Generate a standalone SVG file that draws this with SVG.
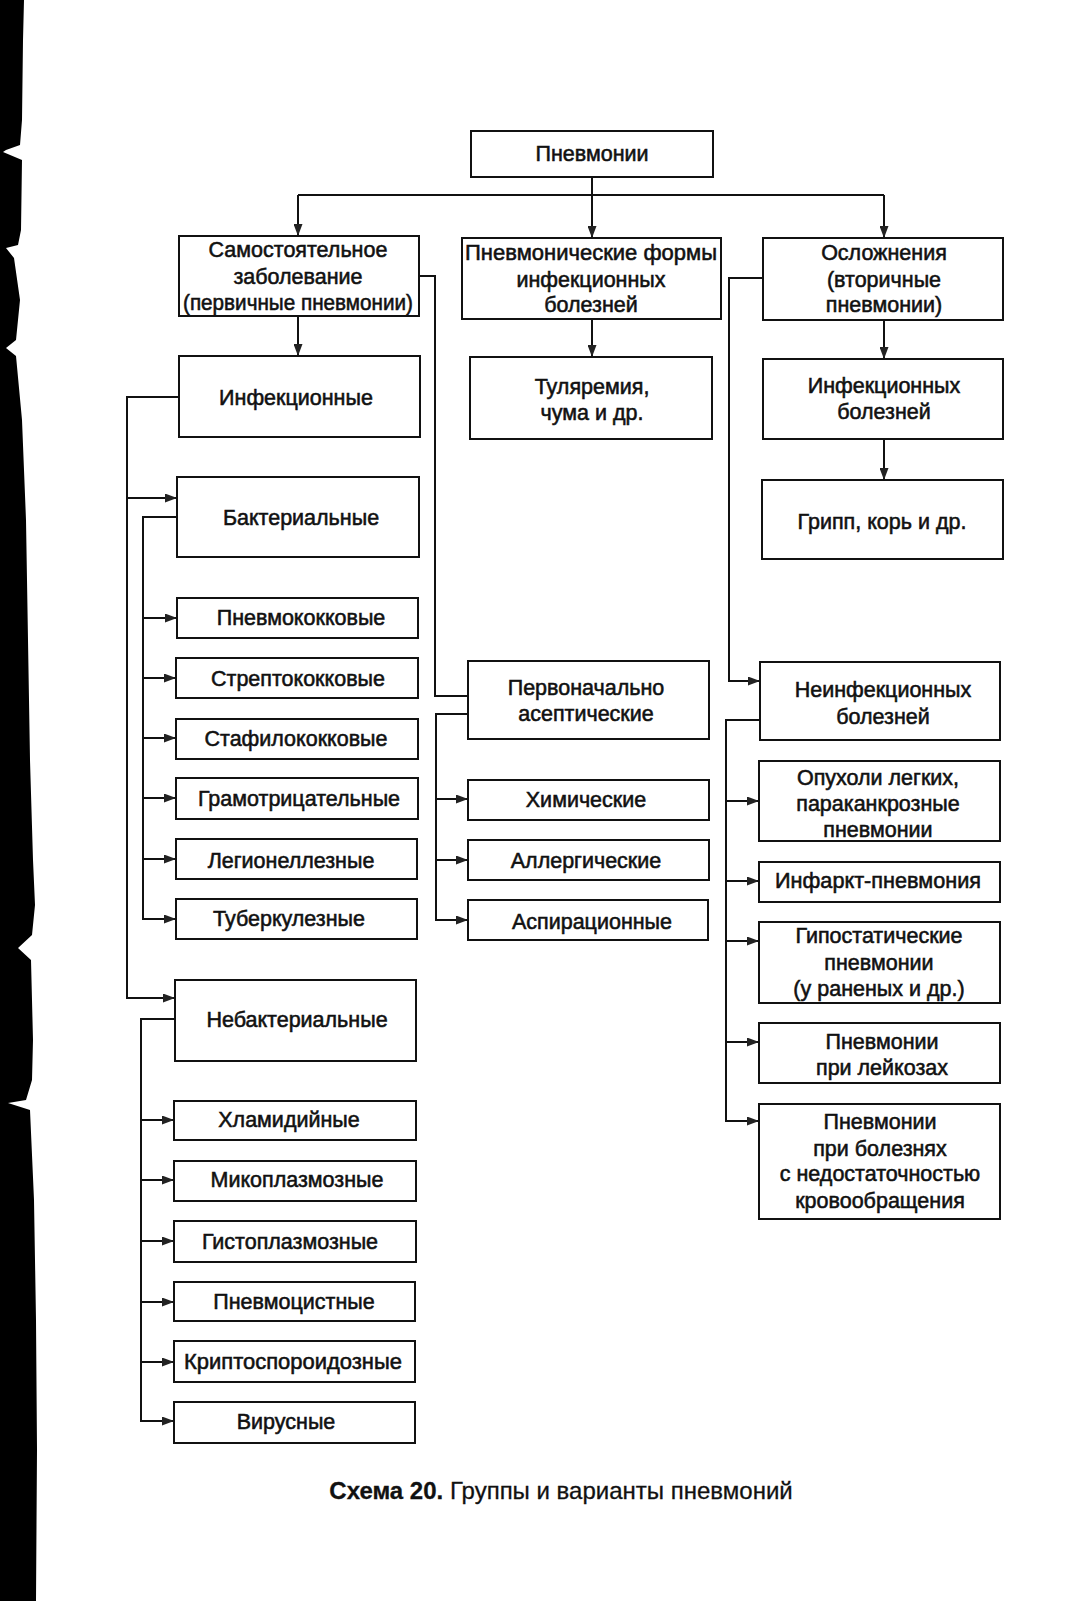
<svg xmlns="http://www.w3.org/2000/svg" width="1073" height="1601" viewBox="0 0 1073 1601">
<defs>
<style>
.b{fill:#fff;stroke:#111;stroke-width:2}
.t{font-family:"Liberation Sans",Arial,sans-serif;font-size:21.5px;fill:#111;stroke:#111;stroke-width:0.55;text-anchor:middle}
.c{fill:none;stroke:#111;stroke-width:2}
.cap{font-family:"Liberation Sans",Arial,sans-serif;font-size:24px;fill:#111;stroke:#111;stroke-width:0.3}
</style>
<marker id="ah" viewBox="0 0 12 9" refX="12" refY="4.5" markerWidth="12" markerHeight="9" markerUnits="userSpaceOnUse" orient="auto">
<path d="M0,0 L12,4.5 L0,9 z" fill="#222"/>
</marker>
</defs>
<rect width="1073" height="1601" fill="#fff"/>
<g id="scan-edge">
<path d="M0,0 L24,0 L23,40 L22,120 L20,145 L6,150 L3,152 L22,160 L21,230 L18,245 L6,248 L14,258 L20,300 L16,340 L6,348 L16,356 L22,420 L26,520 L28,640 L30,760 L33,860 L35,905 L32,935 L18,948 L31,960 L33,1040 L32,1080 L26,1100 L8,1103 L30,1110 L34,1200 L36,1320 L37,1450 L36,1601 L0,1601 z" fill="#000"/>
</g>
<g id="connectors">
<path class="c" d="M592,177 V195 M298,195 H884"/>
<path class="c" d="M298,195 V236" marker-end="url(#ah)"/>
<path class="c" d="M592,195 V238" marker-end="url(#ah)"/>
<path class="c" d="M884,195 V238" marker-end="url(#ah)"/>
<path class="c" d="M298,316 V356" marker-end="url(#ah)"/>
<path class="c" d="M592,319 V357" marker-end="url(#ah)"/>
<path class="c" d="M884,320 V359" marker-end="url(#ah)"/>
<path class="c" d="M884,439 V480" marker-end="url(#ah)"/>
<path class="c" d="M419,276 H435 V696 H468"/>
<path class="c" d="M763,278 H729 V681 H760" marker-end="url(#ah)"/>
<path class="c" d="M179,397 H127 V998 H175" marker-end="url(#ah)"/>
<path class="c" d="M127,498 H177" marker-end="url(#ah)"/>
<path class="c" d="M177,517 H143 V919 H176" marker-end="url(#ah)"/>
<path class="c" d="M143,618 H177" marker-end="url(#ah)"/>
<path class="c" d="M143,678 H176" marker-end="url(#ah)"/>
<path class="c" d="M143,738 H176" marker-end="url(#ah)"/>
<path class="c" d="M143,798 H176" marker-end="url(#ah)"/>
<path class="c" d="M143,859 H176" marker-end="url(#ah)"/>
<path class="c" d="M175,1019 H141 V1421 H174" marker-end="url(#ah)"/>
<path class="c" d="M141,1120 H174" marker-end="url(#ah)"/>
<path class="c" d="M141,1180 H174" marker-end="url(#ah)"/>
<path class="c" d="M141,1241 H174" marker-end="url(#ah)"/>
<path class="c" d="M141,1302 H174" marker-end="url(#ah)"/>
<path class="c" d="M141,1362 H174" marker-end="url(#ah)"/>
<path class="c" d="M468,714 H436 V920 H468" marker-end="url(#ah)"/>
<path class="c" d="M436,799 H468" marker-end="url(#ah)"/>
<path class="c" d="M436,860 H468" marker-end="url(#ah)"/>
<path class="c" d="M760,720 H726 V1121 H759" marker-end="url(#ah)"/>
<path class="c" d="M726,801 H759" marker-end="url(#ah)"/>
<path class="c" d="M726,881 H759" marker-end="url(#ah)"/>
<path class="c" d="M726,941 H759" marker-end="url(#ah)"/>
<path class="c" d="M726,1042 H759" marker-end="url(#ah)"/>
</g>
<g id="n-root"><rect class="b" x="471" y="131" width="242" height="46"/><text class="t" x="592" y="161">Пневмонии</text></g>
<g id="n-primary"><rect class="b" x="179" y="236" width="240" height="80"/><text class="t" x="298" y="257">Самостоятельное</text><text class="t" x="298" y="284">заболевание</text><text class="t" x="298" y="310" textLength="230" lengthAdjust="spacingAndGlyphs">(первичные пневмонии)</text></g>
<g id="n-forms"><rect class="b" x="462" y="238" width="259" height="81"/><text class="t" x="591" y="260" textLength="252" lengthAdjust="spacingAndGlyphs">Пневмонические формы</text><text class="t" x="591" y="287">инфекционных</text><text class="t" x="591" y="312">болезней</text></g>
<g id="n-compl"><rect class="b" x="763" y="238" width="240" height="82"/><text class="t" x="884" y="260">Осложнения</text><text class="t" x="884" y="287">(вторичные</text><text class="t" x="884" y="312">пневмонии)</text></g>
<g id="n-infect"><rect class="b" x="179" y="356" width="241" height="81"/><text class="t" x="296" y="405">Инфекционные</text></g>
<g id="n-tular"><rect class="b" x="470" y="357" width="242" height="82"/><text class="t" x="592" y="394">Туляремия,</text><text class="t" x="592" y="420">чума и др.</text></g>
<g id="n-infdis"><rect class="b" x="763" y="359" width="240" height="80"/><text class="t" x="884" y="393">Инфекционных</text><text class="t" x="884" y="419">болезней</text></g>
<g id="n-flu"><rect class="b" x="762" y="480" width="241" height="79"/><text class="t" x="882" y="529">Грипп, корь и др.</text></g>
<g id="n-bact"><rect class="b" x="177" y="477" width="242" height="80"/><text class="t" x="301" y="525">Бактериальные</text></g>
<g id="n-pneumococ"><rect class="b" x="177" y="598" width="241" height="40"/><text class="t" x="301" y="625">Пневмококковые</text></g>
<g id="n-strepto"><rect class="b" x="176" y="658" width="242" height="40"/><text class="t" x="298" y="686">Стрептококковые</text></g>
<g id="n-staph"><rect class="b" x="176" y="719" width="242" height="40"/><text class="t" x="296" y="746">Стафилококковые</text></g>
<g id="n-gramneg"><rect class="b" x="176" y="778" width="242" height="41"/><text class="t" x="299" y="806">Грамотрицательные</text></g>
<g id="n-legion"><rect class="b" x="176" y="839" width="241" height="40"/><text class="t" x="291" y="868">Легионеллезные</text></g>
<g id="n-tuberc"><rect class="b" x="176" y="899" width="241" height="40"/><text class="t" x="289" y="926">Туберкулезные</text></g>
<g id="n-nonbact"><rect class="b" x="175" y="980" width="241" height="81"/><text class="t" x="297" y="1027">Небактериальные</text></g>
<g id="n-chlam"><rect class="b" x="174" y="1101" width="242" height="39"/><text class="t" x="289" y="1127">Хламидийные</text></g>
<g id="n-myco"><rect class="b" x="174" y="1161" width="242" height="40"/><text class="t" x="297" y="1187">Микоплазмозные</text></g>
<g id="n-histo"><rect class="b" x="174" y="1221" width="242" height="41"/><text class="t" x="290" y="1249">Гистоплазмозные</text></g>
<g id="n-pcyst"><rect class="b" x="174" y="1282" width="241" height="39"/><text class="t" x="294" y="1309">Пневмоцистные</text></g>
<g id="n-crypto"><rect class="b" x="174" y="1341" width="241" height="41"/><text class="t" x="293" y="1369" textLength="218" lengthAdjust="spacingAndGlyphs">Криптоспороидозные</text></g>
<g id="n-viral"><rect class="b" x="174" y="1402" width="241" height="41"/><text class="t" x="286" y="1429">Вирусные</text></g>
<g id="n-aseptic"><rect class="b" x="468" y="661" width="241" height="78"/><text class="t" x="586" y="695">Первоначально</text><text class="t" x="586" y="721">асептические</text></g>
<g id="n-chem"><rect class="b" x="468" y="780" width="241" height="40"/><text class="t" x="586" y="807">Химические</text></g>
<g id="n-allerg"><rect class="b" x="468" y="840" width="241" height="40"/><text class="t" x="586" y="868">Аллергические</text></g>
<g id="n-aspir"><rect class="b" x="468" y="900" width="240" height="40"/><text class="t" x="592" y="929">Аспирационные</text></g>
<g id="n-noninf"><rect class="b" x="760" y="662" width="240" height="78"/><text class="t" x="883" y="697">Неинфекционных</text><text class="t" x="883" y="724">болезней</text></g>
<g id="n-tumor"><rect class="b" x="759" y="761" width="241" height="80"/><text class="t" x="878" y="785">Опухоли легких,</text><text class="t" x="878" y="811">параканкрозные</text><text class="t" x="878" y="837">пневмонии</text></g>
<g id="n-infarct"><rect class="b" x="759" y="862" width="241" height="40"/><text class="t" x="878" y="888" textLength="206" lengthAdjust="spacingAndGlyphs">Инфаркт-пневмония</text></g>
<g id="n-hypost"><rect class="b" x="759" y="922" width="241" height="81"/><text class="t" x="879" y="943">Гипостатические</text><text class="t" x="879" y="970">пневмонии</text><text class="t" x="879" y="996">(у раненых и др.)</text></g>
<g id="n-leuk"><rect class="b" x="759" y="1023" width="241" height="60"/><text class="t" x="882" y="1049">Пневмонии</text><text class="t" x="882" y="1075">при лейкозах</text></g>
<g id="n-circ"><rect class="b" x="759" y="1104" width="241" height="115"/><text class="t" x="880" y="1129">Пневмонии</text><text class="t" x="880" y="1156">при болезнях</text><text class="t" x="880" y="1181">с недостаточностью</text><text class="t" x="880" y="1208">кровообращения</text></g>
<text class="cap" x="561" y="1499" text-anchor="middle"><tspan font-weight="bold">Схема 20.</tspan> Группы и варианты пневмоний</text>
</svg>
